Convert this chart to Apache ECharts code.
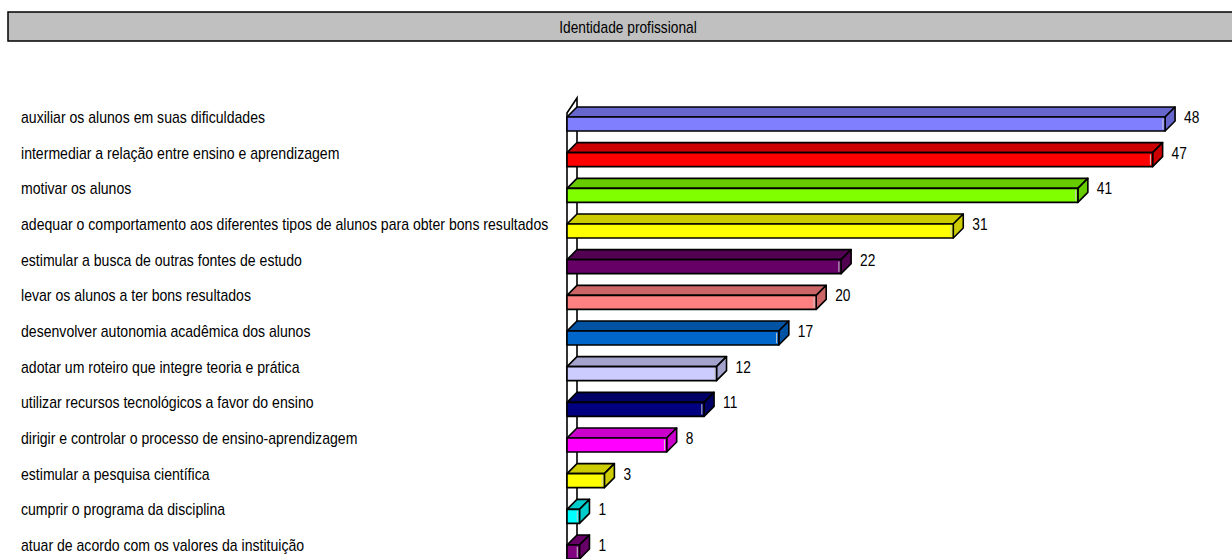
<!DOCTYPE html>
<html><head><meta charset="utf-8">
<script src="https://cdn.jsdelivr.net/npm/echarts@6/dist/echarts.min.js"></script>
<style>html,body{margin:0;padding:0;background:#fff}#c{width:1232px;height:559px}</style>
</head><body><div id="c"></div>
<script>
const titleText = 'Identidade profissional';
const categories = [
  'auxiliar os alunos em suas dificuldades',
  'intermediar a relação entre ensino e aprendizagem',
  'motivar os alunos',
  'adequar o comportamento aos diferentes tipos de alunos para obter bons resultados',
  'estimular a busca de outras fontes de estudo',
  'levar os alunos a ter bons resultados',
  'desenvolver autonomia acadêmica dos alunos',
  'adotar um roteiro que integre teoria e prática',
  'utilizar recursos tecnológicos a favor do ensino',
  'dirigir e controlar o processo de ensino-aprendizagem',
  'estimular a pesquisa científica',
  'cumprir o programa da disciplina',
  'atuar de acordo com os valores da instituição'
];
const values = [48, 47, 41, 31, 22, 20, 17, 12, 11, 8, 3, 1, 1];

const frontColors = ['#8080ff','#ff0000','#80ff00','#ffff00','#660066','#ff8080','#0066cc','#ccccff','#000080','#ff00ff','#ffff00','#00ffff','#800080'];
const FONT = "'Liberation Sans', Arial, sans-serif";
const NARROW = 0.88, NARROW_TITLE = 0.86, NARROW_VAL = 0.86;
const DEPTH = 10, THICK = 14, LABEL_GAP = 546;

function shade(hex) {
  const n = parseInt(hex.slice(1), 16);
  const r = Math.round(((n >> 16) & 255) * 0.8), g = Math.round(((n >> 8) & 255) * 0.8), b = Math.round((n & 255) * 0.8);
  return 'rgb(' + r + ',' + g + ',' + b + ')';
}

function narrowText(text, x, y, sx) {
  return { type: 'text', x: x, y: y, scaleX: sx, scaleY: 1,
    style: { text: text, x: 0, y: 0, align: 'left', verticalAlign: 'middle', fontFamily: FONT, fontSize: 16, fill: '#000' } };
}

function renderWall(params, api) {
  const pTop = api.coord([0, 0]);
  const pBot = api.coord([0, categories.length - 1]);
  const x0 = pTop[0];
  return {
    type: 'polygon',
    shape: { points: [[x0, pTop[1] - 4], [x0 + DEPTH, pTop[1] - 19], [x0 + DEPTH, pBot[1] + 60], [x0, pBot[1] + 70]] },
    style: { fill: '#ffffff', stroke: '#000', lineWidth: 1.6 }
  };
}

function renderBar(params, api) {
  const v = api.value(0);
  const i = api.value(1);
  const p0 = api.coord([0, i]);
  const p1 = api.coord([v, i]);
  const x0 = p0[0], x1 = p1[0], y = p0[1];
  const front = frontColors[i % frontColors.length];
  const dark = shade(front);
  const ls = { stroke: '#000', lineWidth: 1.6, lineJoin: 'round' };
  return {
    type: 'group',
    children: [
      { type: 'polygon', shape: { points: [[x0, y], [x0 + DEPTH, y - DEPTH], [x1 + DEPTH, y - DEPTH], [x1, y]] }, style: Object.assign({ fill: dark }, ls) },
      { type: 'polygon', shape: { points: [[x1, y], [x1 + DEPTH, y - DEPTH], [x1 + DEPTH, y - DEPTH + THICK], [x1, y + THICK]] }, style: Object.assign({ fill: dark }, ls) },
      { type: 'rect', shape: { x: x0, y: y, width: x1 - x0, height: THICK }, style: Object.assign({ fill: front }, ls) },
      { type: 'line', shape: { x1: x1 - 2.2, y1: y + 1.8, x2: x1 - 2.2, y2: y + THICK - 1.8 }, style: { stroke: '#c8c8c8', lineWidth: 1 } },
      narrowText(String(v), x1 + 19, y, NARROW_VAL),
      narrowText(categories[i], x0 - LABEL_GAP, y, NARROW)
    ]
  };
}

const chart = echarts.init(document.getElementById('c'), null, { renderer: 'svg' });
chart.setOption({
  animation: false,
  backgroundColor: '#ffffff',
  grid: { left: 567, right: 42, top: 117, bottom: 14, containLabel: false },
  xAxis: { type: 'value', min: 0, max: 50, show: false },
  yAxis: {
    type: 'category', data: categories, inverse: true, boundaryGap: false,
    axisLine: { show: false }, axisTick: { show: false }, splitLine: { show: false },
    axisLabel: { show: false }
  },
  graphic: [
    { type: 'rect', shape: { x: 8, y: 12, width: 1240, height: 29 }, style: { fill: '#c0c0c0', stroke: '#000', lineWidth: 1.5 }, z: 10 },
    { type: 'text', x: 628, y: 27, scaleX: NARROW_TITLE, style: { text: titleText, x: 0, y: 0, align: 'center', verticalAlign: 'middle', fontFamily: FONT, fontSize: 16, fill: '#000' }, z: 11 }
  ],
  series: [
    { type: 'custom', name: 'wall', z: 1, silent: true, clip: false, data: [[0, 0]], encode: { x: 0, y: 1 }, renderItem: renderWall },
    { type: 'custom', name: titleText, z: 2, clip: false, data: values.map((v, i) => [v, i]), encode: { x: 0, y: 1 }, renderItem: renderBar }
  ]
});
</script>
</body></html>
